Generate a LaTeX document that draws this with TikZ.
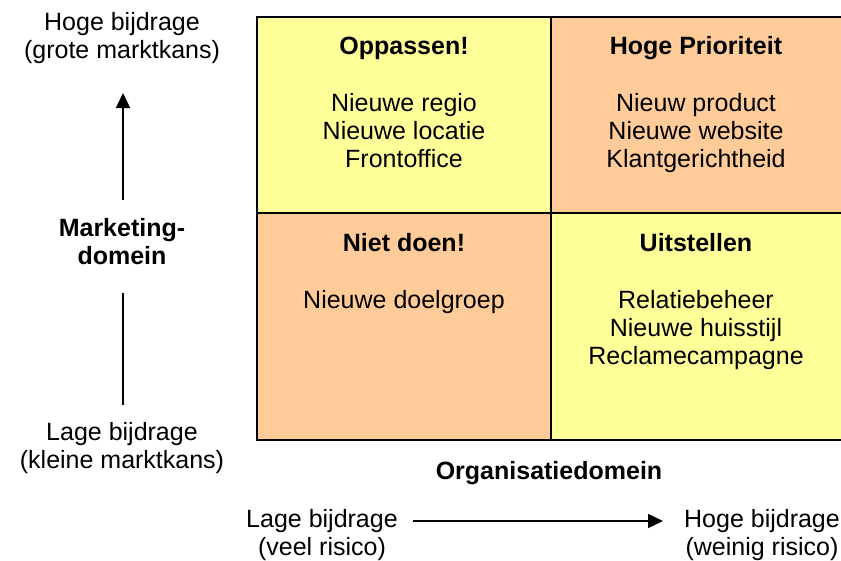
\documentclass[tikz,border=0pt]{standalone}
\usepackage{fontspec}
\setmainfont{Liberation Sans}
\usetikzlibrary{arrows.meta}
\definecolor{yel}{HTML}{FFFF99}
\definecolor{ora}{HTML}{FFCC99}
\tikzset{
  cellbox/.style={draw=black, line width=2pt},
  lbl/.style={font=\fontsize{25}{28}\selectfont, align=center, inner sep=0pt},
  ttl/.style={font=\fontsize{25}{28}\selectfont\bfseries, align=center, inner sep=0pt},
  axis/.style={line width=1.5pt, -{Triangle[width=14pt,length=15pt]}},
  axisline/.style={line width=1.5pt}
}
\begin{document}
\begin{tikzpicture}[x=1pt,y=-1pt]
\useasboundingbox[fill=white] (0,0) rectangle (841,560);
% cells
\fill[yel] (257,17) rectangle (551,213);
\fill[ora] (551,17) rectangle (860,213);
\fill[ora] (257,213) rectangle (551,440);
\fill[yel] (551,213) rectangle (860,440);
\draw[cellbox] (257,17) rectangle (860,440);
\draw[cellbox] (551,17) -- (551,440);
\draw[cellbox] (257,213) -- (860,213);
% cell texts (anchor=base is the baseline of the last line)
\node[ttl, anchor=base] (t1) at (404,54) {Oppassen!};
\node[lbl, anchor=base] (i1) at (404,167) {Nieuwe regio\\Nieuwe locatie\\Frontoffice};
\node[ttl, anchor=base] (t2) at (696,54) {Hoge Prioriteit};
\node[lbl, anchor=base] (i2) at (696,167) {Nieuw product\\Nieuwe website\\Klantgerichtheid};
\node[ttl, anchor=base] (t3) at (404,251) {Niet doen!};
\node[lbl, anchor=base] (i3) at (404,308) {Nieuwe doelgroep};
\node[ttl, anchor=base] (t4) at (696,251) {Uitstellen};
\node[lbl, anchor=base] (i4) at (696,364) {Relatiebeheer\\Nieuwe huisstijl\\Reclamecampagne};
% vertical axis
\node[lbl, anchor=base] (vh) at (122,58) {Hoge bijdrage\\(grote marktkans)};
\node[ttl, anchor=base] (vm) at (122,264) {Marketing-\\domein};
\node[lbl, anchor=base] (vl) at (122,468) {Lage bijdrage\\(kleine marktkans)};
\coordinate (va) at (123,200);
\coordinate (vb) at (123,93);
\coordinate (vc) at (123,293);
\coordinate (vd) at (123,405);
\draw[axis] (va) -- (vb);
\draw[axisline] (vc) -- (vd);
% horizontal axis
\node[ttl, anchor=base] (hm) at (549,479) {Organisatiedomein};
\node[lbl, anchor=base] (hl) at (322,555) {Lage bijdrage\\(veel risico)};
\node[lbl, anchor=base] (hh) at (762,555) {Hoge bijdrage\\(weinig risico)};
\coordinate (ha) at (413,521);
\coordinate (hb) at (663,521);
\draw[axis] (ha) -- (hb);
\end{tikzpicture}
\end{document}
